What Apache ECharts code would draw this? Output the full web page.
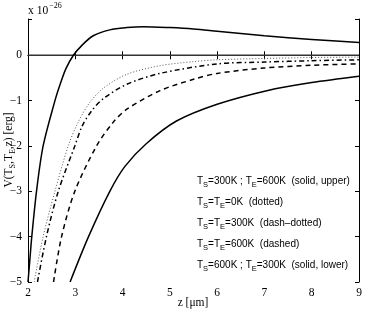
<!DOCTYPE html>
<html>
<head>
<meta charset="utf-8">
<script src="https://cdn.jsdelivr.net/npm/echarts@6/dist/echarts.min.js"></script>
<style>html,body{margin:0;padding:0;background:#fff;}#c{width:366px;height:312px;}</style>
</head>
<body>
<div id="c"></div>
<script>
// z [µm] values and V (x 1e-26 erg) values
var zUpper = [2.0, 2.04, 2.08, 2.18, 2.32, 2.57, 2.68, 2.8, 2.96, 3.15, 3.38, 3.73, 4.09, 4.44, 5.0, 5.5, 6.0, 7.0, 8.0, 9.0];
var vUpper = [-5.0, -4.5, -4.0, -3.0, -2.0, -1.0, -0.64, -0.3, 0.0, 0.23, 0.43, 0.56, 0.61, 0.63, 0.61, 0.58, 0.53, 0.43, 0.35, 0.28];

var zDotted = [2.13, 2.32, 2.57, 2.85, 3.05, 3.3, 3.6, 4.09, 4.79, 5.5, 6.0, 7.0, 8.0, 9.0];
var vDotted = [-5.0, -4.0, -3.0, -2.0, -1.5, -1.05, -0.72, -0.42, -0.23, -0.14, -0.10, -0.07, -0.05, -0.04];

var zDashDot = [2.2, 2.39, 2.64, 2.99, 3.15, 3.35, 3.6, 4.09, 4.79, 6.0, 7.0, 8.0, 9.0];
var vDashDot = [-5.0, -4.0, -3.0, -2.0, -1.55, -1.22, -0.95, -0.64, -0.40, -0.19, -0.15, -0.12, -0.10];

var zDashed = [2.54, 2.71, 2.99, 3.45, 3.8, 4.09, 4.79, 5.5, 6.0, 7.0, 8.0, 9.0];
var vDashed = [-5.0, -4.0, -3.0, -2.0, -1.48, -1.19, -0.78, -0.53, -0.40, -0.28, -0.22, -0.19];

var zLower = [2.89, 3.28, 3.73, 4.05, 4.5, 5.14, 6.0, 7.05, 8.0, 9.0];
var vLower = [-5.0, -4.0, -3.0, -2.45, -1.95, -1.45, -1.08, -0.78, -0.6, -0.46];

var zeroLine = [0];

var legendLines = [
  ['300K ; T', '600K  (solid, upper)'],
  ['T', '0K  (dotted)'],
  ['T', '300K  (dash\u2013dotted)'],
  ['T', '600K  (dashed)'],
  ['600K ; T', '300K  (solid, lower)']
];

function pairs(zs, vs) { return zs.map(function (z, i) { return [z, vs[i]]; }); }

var chart = echarts.init(document.getElementById('c'), null, { renderer: 'canvas' });
var serif = 'Liberation Serif';
var sans = 'Liberation Sans';

function minus(v) {
  if (Math.abs(v - Math.round(v)) > 1e-9) return '';
  return v < 0 ? '\u2212' + Math.abs(v) : String(v);
}

var axisLineStyle = { color: '#000', width: 1 };

var legendGraphics = legendLines.map(function (l, i) {
  var t;
  if (i === 0 || i === 4) {
    t = '{t|T}{s|S}{t|=' + l[0] + '}{s|E}{t|=' + l[1] + '}';
  } else {
    t = '{t|T}{s|S}{t|=T}{s|E}{t|=' + l[1] + '}';
  }
  return {
    type: 'text', left: 197, top: 176 + i * 21,
    style: {
      text: t, fill: '#000',
      rich: {
        t: { fontFamily: sans, fontSize: 10, fill: '#000' },
        s: { fontFamily: sans, fontSize: 7.5, fill: '#000', padding: [7, 0, 0, 0] }
      }
    }
  };
});

var lineCommon = { smooth: 0.3, symbol: 'none' };

var option = {
  animation: false,
  backgroundColor: '#fff',
  grid: { left: 28, right: 7, top: 19, bottom: 30, show: false },
  xAxis: [{
    type: 'value', min: 2, max: 9, interval: 1, position: 'bottom',
    axisLine: { show: true, lineStyle: axisLineStyle },
    axisTick: { show: true, inside: true, length: 4, lineStyle: axisLineStyle },
    axisLabel: { fontFamily: serif, fontSize: 11.5, color: '#000', margin: 5 },
    splitLine: { show: false }
  }, {
    type: 'value', min: 2, max: 9, interval: 1, position: 'top',
    axisLine: { show: true, lineStyle: axisLineStyle },
    axisTick: { show: true, inside: true, length: 4, lineStyle: axisLineStyle },
    axisLabel: { show: false }, splitLine: { show: false }
  }],
  yAxis: [{
    type: 'value', min: -5, max: 0.8, interval: 1, position: 'left',
    axisLine: { show: true, lineStyle: axisLineStyle },
    axisTick: { show: true, inside: true, length: 4, lineStyle: axisLineStyle },
    axisLabel: { fontFamily: serif, fontSize: 11.5, color: '#000', margin: 6, formatter: minus },
    splitLine: { show: false }
  }, {
    type: 'value', min: -5, max: 0.8, interval: 1, position: 'right',
    axisLine: { show: true, lineStyle: axisLineStyle },
    axisTick: { show: true, inside: true, length: 4, lineStyle: axisLineStyle },
    axisLabel: { show: false }, splitLine: { show: false }
  }],
  series: [
    {
      type: 'line', name: 'zero', data: [[2, zeroLine[0]], [9, zeroLine[0]]],
      symbol: 'none', lineStyle: { color: '#333', width: 1.5 }, silent: true
    },
    Object.assign({
      type: 'line', name: 'upper', data: pairs(zUpper, vUpper),
      lineStyle: { color: '#000', width: 1.5 }
    }, lineCommon),
    Object.assign({
      type: 'line', name: 'dotted', data: pairs(zDotted, vDotted),
      lineStyle: { color: '#555', width: 1, type: [1, 2] }
    }, lineCommon),
    Object.assign({
      type: 'line', name: 'dashdot', data: pairs(zDashDot, vDashDot),
      lineStyle: { color: '#000', width: 1.5, type: [5, 3, 1.5, 3] }
    }, lineCommon),
    Object.assign({
      type: 'line', name: 'dashed', data: pairs(zDashed, vDashed),
      lineStyle: { color: '#000', width: 1.5, type: [5, 4] }
    }, lineCommon),
    Object.assign({
      type: 'line', name: 'lower', data: pairs(zLower, vLower),
      lineStyle: { color: '#000', width: 1.5 }
    }, lineCommon)
  ],
  graphic: [
    {
      type: 'text', left: 28, top: 2,
      style: {
        text: '{a|x 10}{b|\u221226}', rich: {
          a: { fontFamily: serif, fontSize: 11.5, fill: '#000', padding: [6, 0, 0, 0] },
          b: { fontFamily: serif, fontSize: 8, fill: '#000', padding: [0, 0, 4, 1] }
        }
      }
    },
    {
      type: 'text', x: 9, y: 150, rotation: Math.PI / 2,
      style: {
        text: '{t|V(T}{s|S}{t|,T}{s|E}{t|,z) [erg]}', align: 'center', verticalAlign: 'middle',
        rich: {
          t: { fontFamily: serif, fontSize: 11.5, fill: '#000' },
          s: { fontFamily: serif, fontSize: 8, fill: '#000', padding: [7, 0, 0, 0] }
        }
      }
    },
    {
      type: 'text', x: 193, y: 303,
      style: { text: 'z [\u03bcm]', fontFamily: serif, fontSize: 11.5, fill: '#000', align: 'center', verticalAlign: 'middle' }
    }
  ].concat(legendGraphics)
};
chart.setOption(option);
</script>
</body>
</html>
